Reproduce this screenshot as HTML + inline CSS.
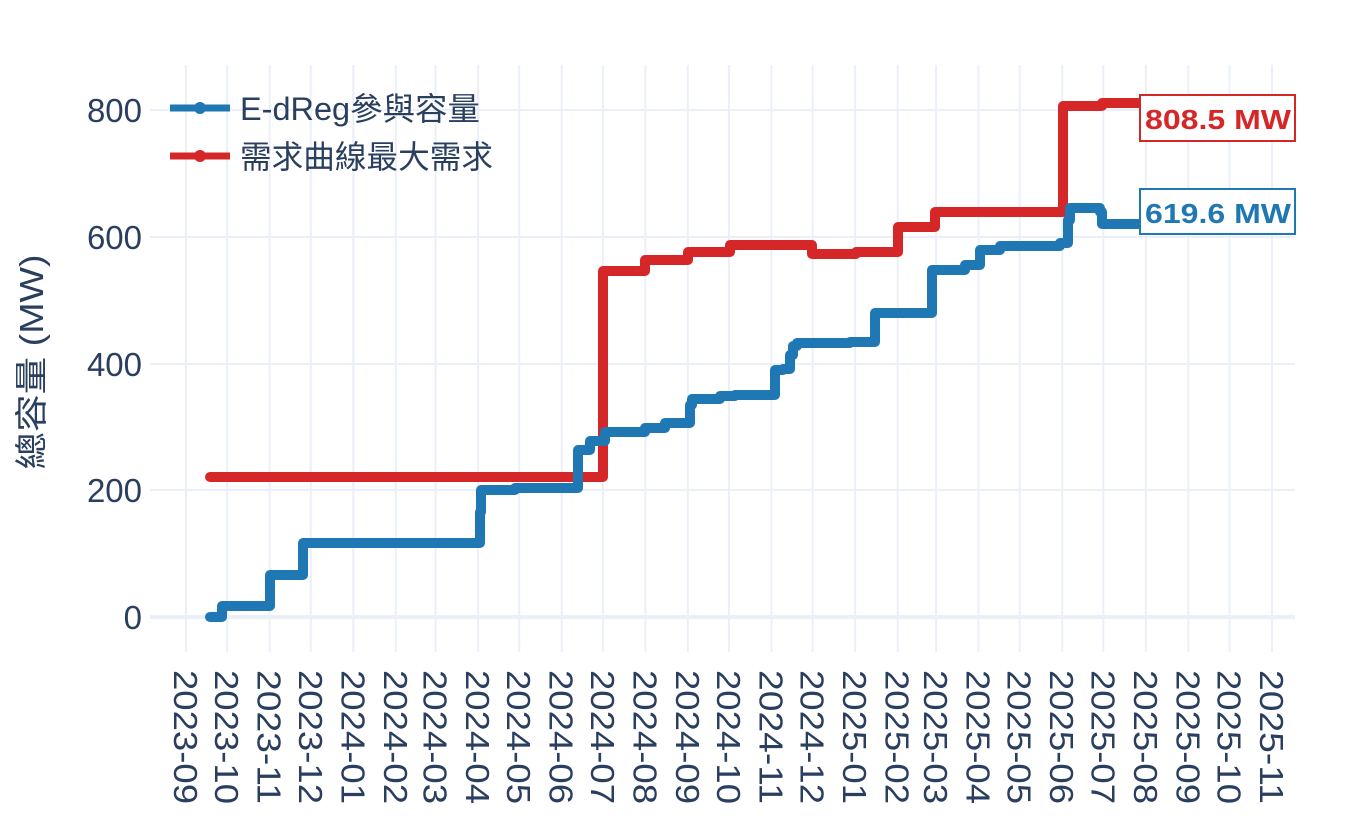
<!DOCTYPE html>
<html><head><meta charset="utf-8"><style>
body{margin:0;background:#fff;}
text{font-family:"Liberation Sans","Noto Sans CJK TC",sans-serif;fill:#2a3f5f;}
</style></head><body>
<svg width="1368" height="830" xmlns="http://www.w3.org/2000/svg">
<g id="vlines" stroke="#ebf0f8" stroke-width="2"></g>
<g stroke="#ebf0f8" stroke-width="2">
<line x1="150" x2="1295" y1="490" y2="490"/><line x1="150" x2="1295" y1="364" y2="364"/>
<line x1="150" x2="1295" y1="237" y2="237"/><line x1="150" x2="1295" y1="110" y2="110"/>
</g>
<line x1="150" x2="1295" y1="617" y2="617" stroke="#ebf0f8" stroke-width="4"/>
<g id="xt"></g>
<g font-size="33" text-anchor="end">
<text x="142" y="629">0</text><text x="142" y="502">200</text><text x="142" y="376">400</text><text x="142" y="249">600</text><text x="142" y="122">800</text>
</g>
<text transform="translate(43,362) rotate(-90)" font-size="33" text-anchor="middle" textLength="215" lengthAdjust="spacingAndGlyphs">總容量 (MW)</text>
<polyline fill="none" stroke="#d62728" stroke-width="10" stroke-linejoin="round" stroke-linecap="round" points="210,477 603,477 603,271 645,271 645,260 688,260 688,252 730,252 730,245 812,245 812,254 856,254 856,252 898,252 898,227 935,227 935,212 1063,212 1063,106 1102,106 1102,103 1140,103"/>
<polyline fill="none" stroke="#1f77b4" stroke-width="10" stroke-linejoin="round" stroke-linecap="round" points="210,617 222,617 222,606 270,606 270,575 303,575 303,543 480,543 480,512 481,512 481,490 515,490 515,488 578,488 578,450 590,450 590,441 605,441 605,432 645,432 645,428 665,428 665,423 690,423 690,405 692,405 692,399 720,399 720,396 735,396 735,395 750,395 750,395 775,395 775,370 783,370 783,369 790,369 790,355 793,355 793,346 797,346 797,343 850,343 850,342 875,342 875,313 932,313 932,270 965,270 965,265 980,265 980,250 1000,250 1000,246 1060,246 1060,243 1068,243 1068,220 1070,220 1070,208 1100,208 1100,212 1102,212 1102,224 1140,224"/>
<rect x="1140" y="95" width="155" height="46" fill="#fff" stroke="#d62728" stroke-width="2"/>
<text x="1145" y="129" font-size="28" font-weight="bold" textLength="146" lengthAdjust="spacingAndGlyphs" style="fill:#d62728">808.5 MW</text>
<rect x="1140" y="189" width="155" height="45" fill="#fff" stroke="#1f77b4" stroke-width="2"/>
<text x="1145" y="223" font-size="28" font-weight="bold" textLength="146" lengthAdjust="spacingAndGlyphs" style="fill:#1f77b4">619.6 MW</text>
<line x1="170" x2="230" y1="108" y2="108" stroke="#1f77b4" stroke-width="7"/><circle cx="200" cy="108" r="6" fill="#1f77b4"/>
<line x1="170" x2="230" y1="156" y2="156" stroke="#d62728" stroke-width="7"/><circle cx="200" cy="156" r="6" fill="#d62728"/>
<text x="240" y="120" font-size="32" textLength="240" lengthAdjust="spacingAndGlyphs">E-dReg參與容量</text>
<text x="240" y="168" font-size="32" textLength="253" lengthAdjust="spacingAndGlyphs">需求曲線最大需求</text>
</svg>
<script>
var ns="http://www.w3.org/2000/svg";
var x0=186,s=(1272-186)/792;
var base=Date.UTC(2023,8,1);
var vl=document.getElementById('vlines'),xt=document.getElementById('xt');
for(var i=0;i<27;i++){
 var dt=new Date(Date.UTC(2023,8+i,1));
 var x=x0+(dt.getTime()-base)/864e5*s;
 var l=document.createElementNS(ns,'line');
 l.setAttribute('x1',x);l.setAttribute('x2',x);l.setAttribute('y1',65);l.setAttribute('y2',652);
 vl.appendChild(l);
 var t=document.createElementNS(ns,'text');
 t.setAttribute('transform','translate('+(x-12)+',670) rotate(90)');
 t.setAttribute('font-size','33');
 t.setAttribute('textLength','134');
 t.setAttribute('lengthAdjust','spacingAndGlyphs');
 var m=dt.getUTCMonth()+1;
 t.textContent=dt.getUTCFullYear()+'-'+(m<10?'0':'')+m;
 xt.appendChild(t);
}
</script>
</body></html>
